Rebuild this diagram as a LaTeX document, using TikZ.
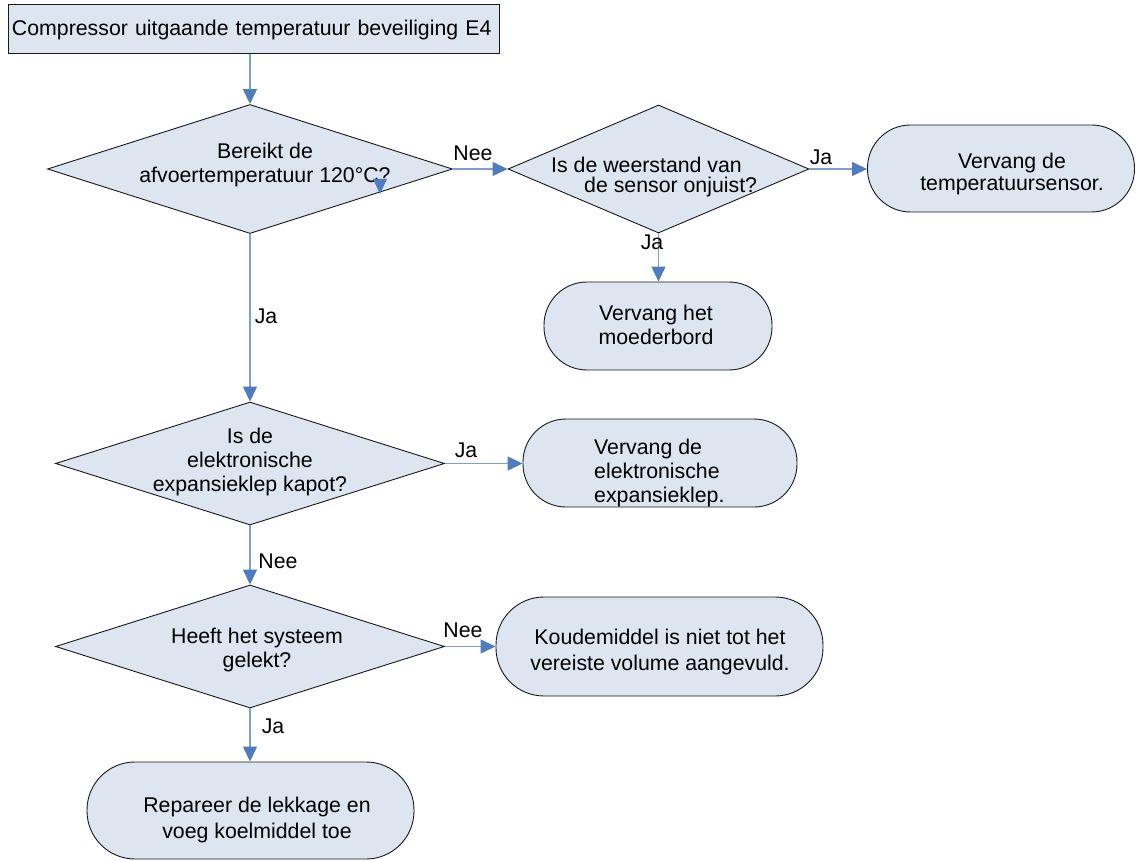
\documentclass[tikz,border=0pt]{standalone}
\usepackage{fontspec}
\setmainfont{Liberation Sans}
\usetikzlibrary{shapes.geometric,arrows.meta}
\definecolor{boxfill}{RGB}{221,229,240}
\definecolor{linec}{RGB}{125,158,206}
\definecolor{arrc}{RGB}{79,124,190}
\definecolor{edgec}{RGB}{25,25,25}
\begin{document}
\begin{tikzpicture}[x=1pt,y=-1pt,
  every node/.style={font=\fontsize{21.3}{24}\selectfont},
  dia/.style={diamond, draw=edgec, fill=boxfill, inner sep=0pt, line width=0.9pt},
  term/.style={draw=edgec, fill=boxfill, rounded corners=43pt, line width=0.9pt, inner sep=0pt},
  conn/.style={draw=linec, line width=1.3pt, -{Triangle[length=15pt,width=14pt,color=arrc]}},
  lbl/.style={inner sep=0pt, anchor=center},
  txt/.style={align=center, inner sep=0pt}]
\useasboundingbox (0,0) rectangle (1136,861);

% start box
\node[draw=edgec, fill=boxfill, line width=1pt, text width=483pt, inner xsep=4pt, inner ysep=0pt,
      minimum height=49pt, align=left] (top) at (253.5,29.5) {Compressor uitgaande temperatuur beveiliging E4};

% diamonds
\node[dia, minimum width=405pt, minimum height=129pt] (d1) at (250,169) {};
\node[dia, minimum width=301pt, minimum height=128pt] (d2) at (658.5,169) {};
\node[dia, minimum width=389pt, minimum height=123pt] (d3) at (250,463.5) {};
\node[dia, minimum width=389pt, minimum height=123pt] (d4) at (250,646.5) {};

% terminal boxes
\node[term, minimum width=267pt, minimum height=87pt] (t1) at (1001,168.5) {};
\node[term, minimum width=228pt, minimum height=88pt] (t2) at (658,326) {};
\node[term, minimum width=274pt, minimum height=88pt] (t3) at (660,463) {};
\node[term, minimum width=327pt, minimum height=99pt, rounded corners=48pt] (t4) at (659.5,646.5) {};
\node[term, minimum width=327pt, minimum height=97pt, rounded corners=48pt] (t5) at (250.5,810.5) {};

% texts
\node[txt] (d1x) at (265,165) {Bereikt de\\afvoertemperatuur 120°C?};
\node[txt, align=left, anchor=west, font=\fontsize{21.3}{20}\selectfont] (d2x) at (551,177)
  {Is de weerstand van\\\hspace*{33pt}de sensor onjuist?};
\node[txt] (d3x) at (250,461.5) {Is de\\elektronische\\expansieklep kapot?};
\node[txt] (d4x) at (257,650) {Heeft het systeem\\gelekt?};
\node[txt, font=\fontsize{21.3}{22}\selectfont] (t1x) at (1012,173.5) {Vervang de\\temperatuursensor.};
\node[txt] (t2x) at (656,325) {Vervang het\\moederbord};
\node[txt, align=left, anchor=west] (t3x) at (594,472.5) {Vervang de\\elektronische\\expansieklep.};
\node[txt, font=\fontsize{21.3}{26}\selectfont] (t4x) at (660,652) {Koudemiddel is niet tot het\\vereiste volume aangevuld.};
\node[txt, font=\fontsize{21.3}{26}\selectfont] (t5x) at (257,820) {Repareer de lekkage en\\voeg koelmiddel toe};

% stray arrowhead
\fill[arrc] (373,179) -- (387,179) -- (380,194) -- cycle;

% connectors
\draw[conn] (d1.north |- top.south) -- (d1.north);
\draw[conn] (d1.east) -- (d2.west);
\draw[conn] (d2.east) -- (d2.east -| t1.west);
\draw[conn] (d2.south) -- (d2.south |- t2.north);
\draw[conn] (d1.south) -- (d3.north);
\draw[conn] (d3.east) -- (d3.east -| t3.west);
\draw[conn] (d3.south) -- (d4.north);
\draw[conn] (d4.east) -- (d4.east -| t4.west);
\draw[conn] (d4.south) -- (d4.south |- t5.north);

% labels
\node[lbl] (l1) at (473,153) {Nee};
\node[lbl] (l2) at (821,157) {Ja};
\node[lbl] (l3) at (652,242) {Ja};
\node[lbl] (l4) at (266,316) {Ja};
\node[lbl] (l5) at (466,450) {Ja};
\node[lbl] (l6) at (278,561) {Nee};
\node[lbl] (l7) at (463,630) {Nee};
\node[lbl] (l8) at (273,726) {Ja};
\end{tikzpicture}
\end{document}
